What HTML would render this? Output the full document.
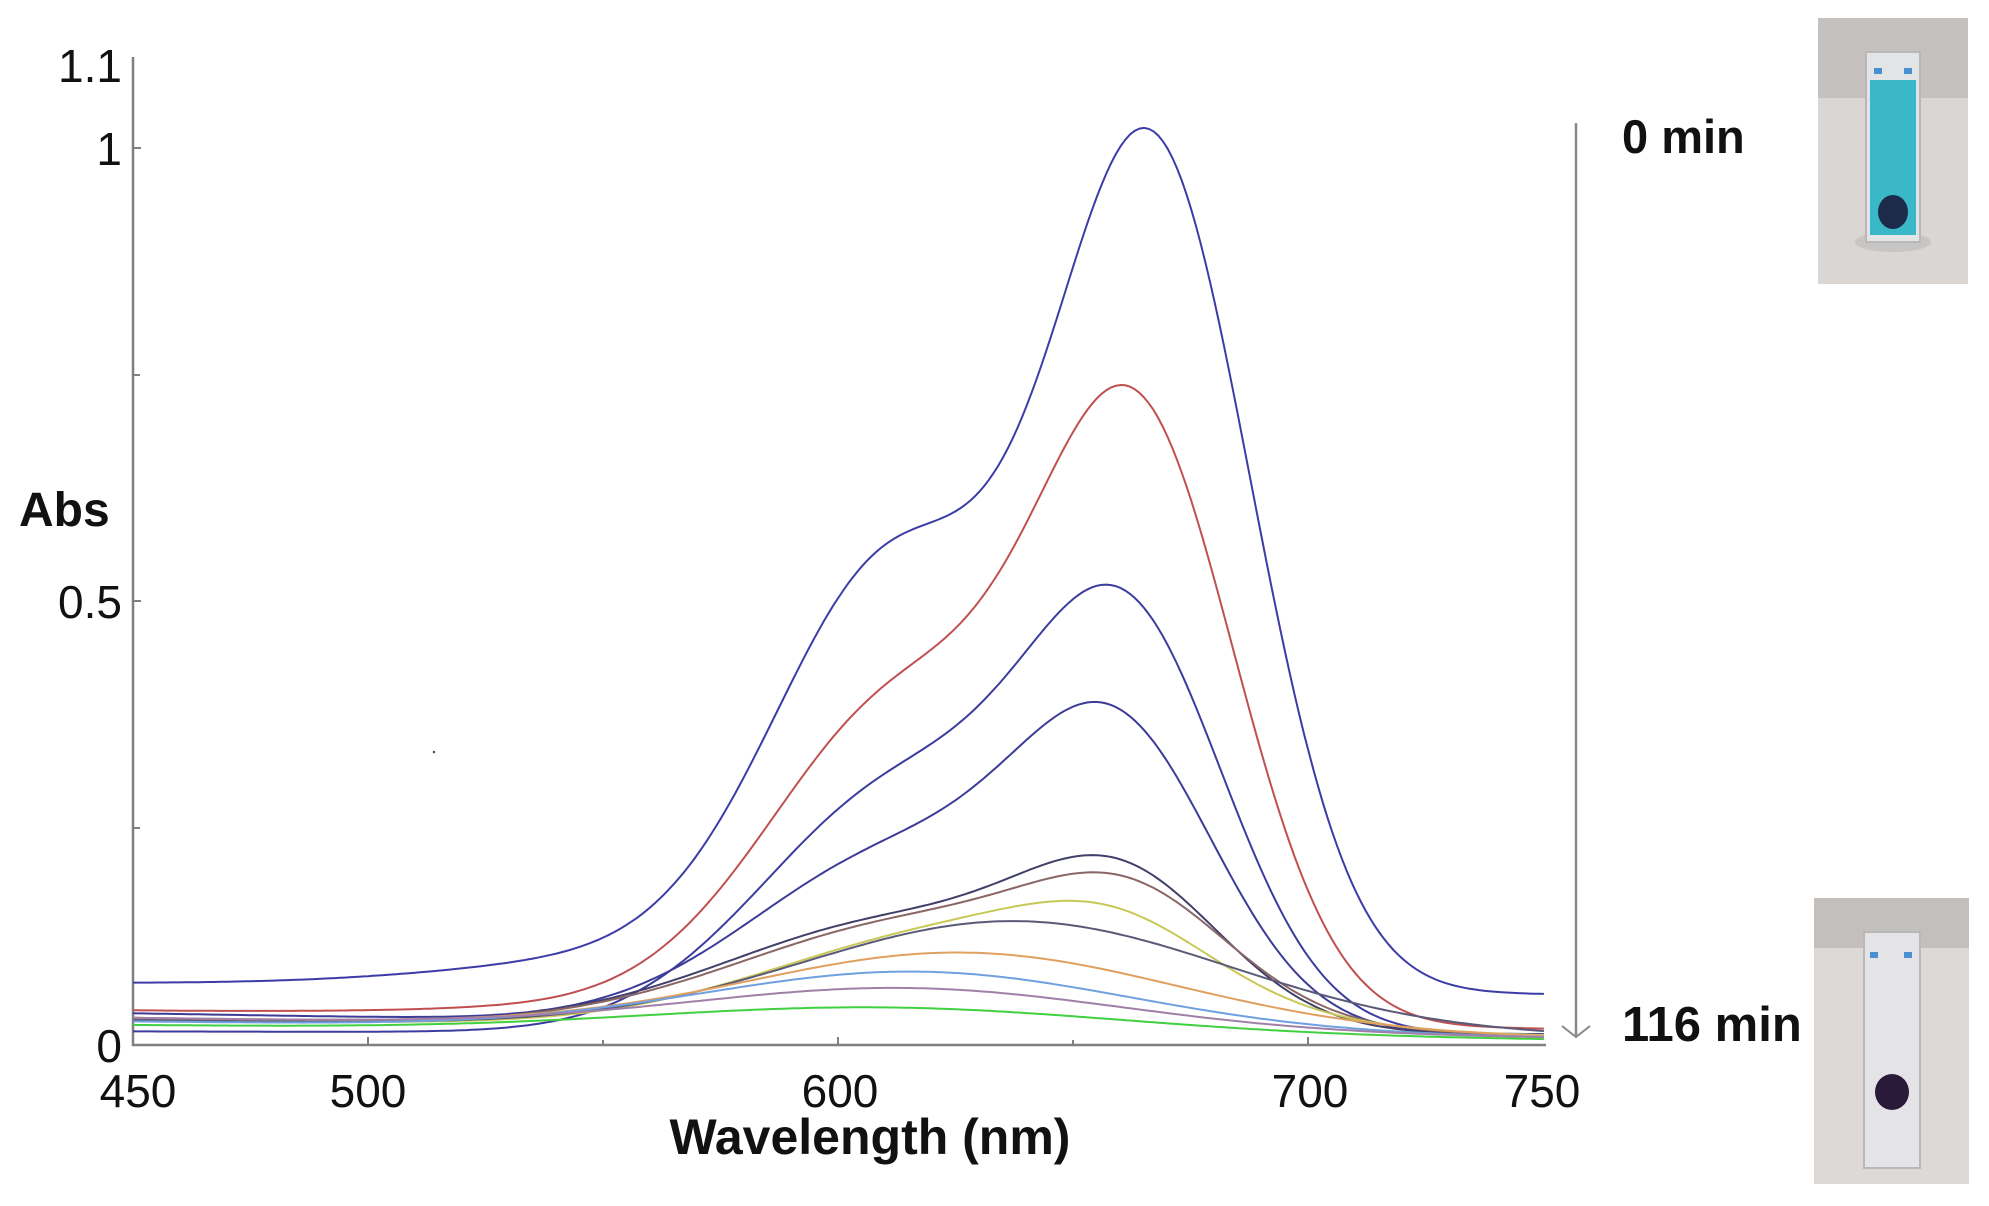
<!DOCTYPE html>
<html><head><meta charset="utf-8"><style>
html,body{margin:0;padding:0;background:#fff;width:1989px;height:1206px;overflow:hidden}
svg{display:block}
text{font-family:"Liberation Sans",Arial,sans-serif}
</style></head><body>
<svg id="s" width="1989" height="1206" viewBox="0 0 1989 1206" xmlns="http://www.w3.org/2000/svg">
<g stroke="#808080" stroke-width="2.5" fill="none">
<line x1="133" y1="57" x2="133" y2="1046"/>
<line x1="132" y1="1045" x2="1546" y2="1045"/>
</g>
<g stroke="#808080" stroke-width="2">
<line x1="133" y1="148" x2="141" y2="148"/>
<line x1="133" y1="375" x2="140" y2="375"/>
<line x1="133" y1="601" x2="141" y2="601"/>
<line x1="133" y1="828" x2="140" y2="828"/>
<line x1="368" y1="1045" x2="368" y2="1037"/>
<line x1="603" y1="1045" x2="603" y2="1040"/>
<line x1="838" y1="1045" x2="838" y2="1037"/>
<line x1="1073" y1="1045" x2="1073" y2="1040"/>
<line x1="1308" y1="1045" x2="1308" y2="1037"/>
</g>
<g font-size="46" fill="#111" text-anchor="end">
<text x="122" y="82">1.1</text>
<text x="122" y="165">1</text>
<text x="122" y="618">0.5</text>
<text x="122" y="1062">0</text>
</g>
<g font-size="46" fill="#111" text-anchor="middle">
<text x="138" y="1107">450</text>
<text x="368" y="1107">500</text>
<text x="840" y="1107">600</text>
<text x="1310" y="1107">700</text>
<text x="1542" y="1107">750</text>
</g>
<text x="870" y="1154" font-size="50" font-weight="bold" text-anchor="middle" fill="#111">Wavelength (nm)</text>
<text x="19" y="526" font-size="48" font-weight="bold" fill="#111">Abs</text>
<circle cx="434" cy="752" r="1.3" fill="#555"/>
<g id="curves" fill="none" stroke-width="2"></g>
<line x1="1576" y1="123" x2="1576" y2="1036" stroke="#888" stroke-width="2.5"/>
<polyline points="1562,1026 1576,1037 1590,1026" fill="none" stroke="#888" stroke-width="2"/>
<text x="1622" y="153" font-size="47" font-weight="bold" fill="#111">0 min</text>
<text x="1622" y="1041" font-size="49" font-weight="bold" fill="#111">116 min</text>
<rect x="1818" y="18" width="150" height="266" fill="#d9d6d3"/>
<rect x="1818" y="18" width="150" height="80" fill="#c4c1be"/>
<ellipse cx="1893" cy="242" rx="38" ry="10" fill="#c8c6c4"/>
<rect x="1866" y="52" width="54" height="190" fill="#e2e4e6" stroke="#b8b8b8" stroke-width="2"/>
<rect x="1870" y="80" width="46" height="155" fill="#3bb8c8"/>
<rect x="1874" y="68" width="8" height="6" fill="#4a90d0"/><rect x="1904" y="68" width="8" height="6" fill="#4a90d0"/>
<ellipse cx="1893" cy="212" rx="15" ry="17" fill="#1e2a4a"/>
<rect x="1814" y="898" width="155" height="286" fill="#dcd9d6"/>
<rect x="1814" y="898" width="155" height="50" fill="#c2bfbc"/>
<rect x="1864" y="932" width="56" height="236" fill="#e4e4e6" stroke="#b8b8b8" stroke-width="2"/>
<rect x="1870" y="952" width="8" height="6" fill="#4a90d0"/><rect x="1904" y="952" width="8" height="6" fill="#4a90d0"/>
<ellipse cx="1892" cy="1092" rx="17" ry="18" fill="#2a1a3a"/>
</svg>
<script>
function X(w){return 133+(w-450)*4.703;}
function Y(a){return 1045-a*906;}
function g(w,c,s){return Math.exp(-(w-c)*(w-c)/(2*s*s));}
var C=[
 ["#3c3ca8",0.068,0.056,0.44,612,25,0.905,667,21,0.04],
 ["#c05050",0.038,0.018,0.34,614,28,0.625,664,21,0.015],
 ["#3c3ca0",0.015,0.012,0.27,614,30,0.41,662,21,0.0],
 ["#3c3c98",0.035,0.010,0.19,614,32,0.285,660,21,0.0],
 ["#40406a",0.028,0.010,0.12,615,38,0.13,661,21,0],
 ["#8a6666",0.028,0.010,0.12,620,40,0.10,663,21,0],
 ["#c8c858",0.028,0.010,0.11,628,40,0.055,660,20,0],
 ["#5a5a78",0.028,0.010,0.12,638,45,0.0,656,20,0],
 ["#e0a060",0.030,0.008,0.085,627,45,0,0,1,0],
 ["#70a0e0",0.026,0.008,0.065,617,45,0,0,1,0],
 ["#a080a8",0.030,0.008,0.045,615,45,0,0,1,0],
 ["#40d040",0.022,0.006,0.028,610,50,0,0,1,0]
];
var h="";
C.forEach(function(c){
 var d="";
 for(var w=450;w<=750;w+=1){
  var b=c[1]+(c[2]-c[1])*(w-450)/300;
  var a=b+c[3]*g(w,c[4],c[5])+(c[6]?c[6]*g(w,c[7],c[8]):0)+c[9]*g(w,575,45);
  d+=(w==450?"M":"L")+X(w).toFixed(1)+","+Y(a).toFixed(1);
 }
 h+='<path d="'+d+'" stroke="'+c[0]+'"/>';
});
document.getElementById("curves").innerHTML=h;
</script>
</body></html>
